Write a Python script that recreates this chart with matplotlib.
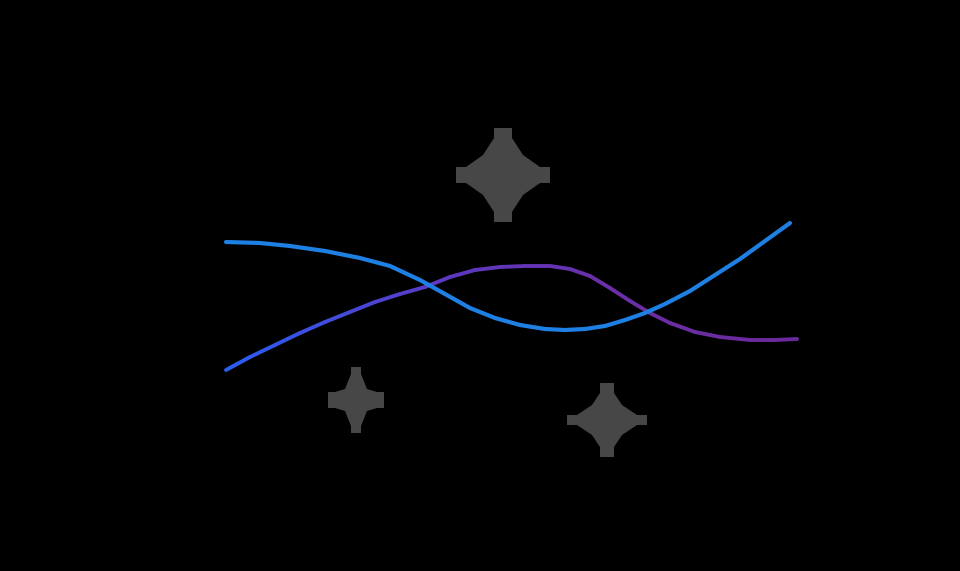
import numpy as np
import matplotlib.pyplot as plt
from matplotlib.collections import LineCollection
from matplotlib.colors import LinearSegmentedColormap
from matplotlib.patches import Polygon

# ======================================================
# Data (pixel-like units)
# ======================================================
blue_x = [226, 260, 290, 325, 360, 390, 420, 445, 470, 495, 520, 545, 565, 585, 605, 625, 645, 665, 690, 715, 740, 765, 790]
blue_y = [242, 243, 246, 251, 258, 266, 280, 294, 308, 318, 325, 329, 330, 329, 326, 320, 313, 304, 291, 275, 259, 241, 223]

purple_x = [226, 250, 275, 300, 325, 350, 375, 400, 425, 450, 475, 500, 525, 550, 570, 590, 610, 630, 650, 670, 695, 720, 750, 775, 797]
purple_y = [370, 357, 345, 333, 322, 312, 302, 294, 287, 277, 270, 267, 266, 266, 269, 276, 288, 301, 313, 323, 332, 337, 340, 340, 339]

# stars: centre x, centre y, half width, half height, arm half width (x, y), arm length, pinch
star_cx = [503, 356, 607]
star_cy = [175, 400, 420]
star_hw = [47, 28, 40]
star_hh = [47, 33, 37]
star_ax = [9, 5, 7]
star_ay = [8, 8, 5]
star_arm = [10, 7, 10]
star_pinch = [20, 11, 15]

BG = "#000000"
STAR = "#474747"

fig = plt.figure(figsize=(9.6, 5.71), dpi=100, facecolor=BG)
ax = fig.add_axes([0, 0, 1, 1])
ax.set_facecolor(BG)
ax.set_xlim(0, 960)
ax.set_ylim(571, 0)
ax.axis("off")

# ---- stars
for cx, cy, hw, hh, axw, ayw, arm, r in zip(star_cx, star_cy, star_hw, star_hh,
                                            star_ax, star_ay, star_arm, star_pinch):
    pts = [
        (cx - axw, cy - hh), (cx + axw, cy - hh), (cx + axw, cy - hh + arm),
        (cx + r, cy - r),
        (cx + hw - arm, cy - ayw), (cx + hw, cy - ayw), (cx + hw, cy + ayw), (cx + hw - arm, cy + ayw),
        (cx + r, cy + r),
        (cx + axw, cy + hh - arm), (cx + axw, cy + hh), (cx - axw, cy + hh), (cx - axw, cy + hh - arm),
        (cx - r, cy + r),
        (cx - hw + arm, cy + ayw), (cx - hw, cy + ayw), (cx - hw, cy - ayw), (cx - hw + arm, cy - ayw),
        (cx - r, cy - r),
        (cx - axw, cy - hh + arm),
    ]
    ax.add_patch(Polygon(pts, closed=True, facecolor=STAR, edgecolor="none", zorder=1))

# ---- purple line with blue->purple gradient
pts = np.array([purple_x, purple_y]).T.reshape(-1, 1, 2)
segs = np.concatenate([pts[:-1], pts[1:]], axis=1)
cmap = LinearSegmentedColormap.from_list("bp", ["#2a5df0", "#5a3ac4", "#6a2fa8", "#6a2a9c"])
lc = LineCollection(segs, cmap=cmap, linewidth=2.8, capstyle="round", joinstyle="round", zorder=2)
lc.set_array(np.linspace(0, 1, len(segs)))
ax.add_collection(lc)

# ---- blue line
ax.plot(blue_x, blue_y, color="#1f80e4", linewidth=3.0, solid_capstyle="round",
        solid_joinstyle="round", zorder=3)

fig.savefig("out.png", dpi=100, facecolor=BG)
plt.close(fig)
